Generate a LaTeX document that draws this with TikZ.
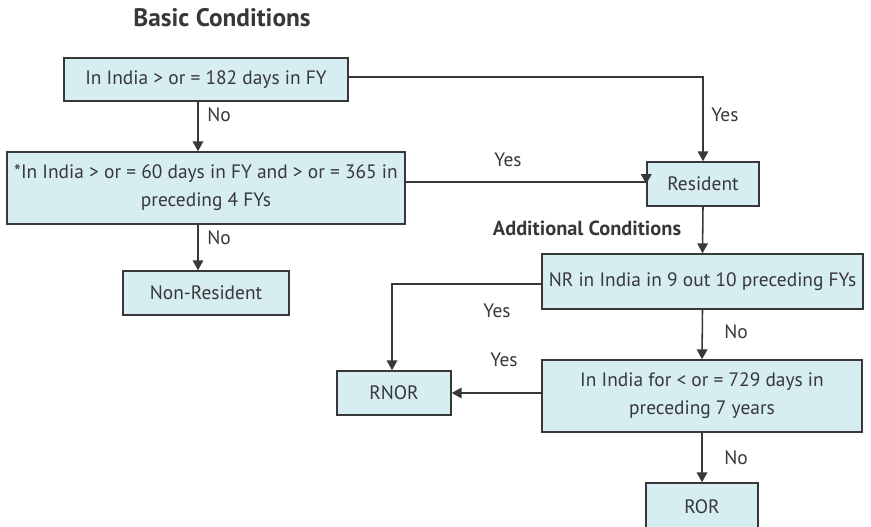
\documentclass[tikz,border=0pt]{standalone}
\usepackage{fontspec}
\setmainfont{PT Sans}
\usetikzlibrary{arrows.meta}
\definecolor{boxfill}{HTML}{D6EDF2}
\definecolor{ink}{HTML}{383838}
\begin{document}
\begin{tikzpicture}[x=1cm,y=1cm,>={Triangle[length=7pt,width=7.5pt]},
  box/.style={draw=ink, fill=boxfill, line width=1.1pt, rectangle, align=center, inner sep=1pt, font=\fontsize{13.8}{20}\selectfont, text=ink},
  lbl/.style={font=\fontsize{13.8}{20}\selectfont, text=ink, inner sep=0pt},
  head/.style={font=\bfseries\fontsize{18}{20}\selectfont, text=ink, inner sep=0pt},
  link/.style={->, draw=ink, line width=1.1pt}]
\useasboundingbox (0,0) rectangle (21.775,-13.175);

\node[head] (basic) at (5.55,-0.45) {Basic Conditions};
\node[head, font=\bfseries\fontsize{14.5}{16}\selectfont] (addl) at (14.675,-5.7) {Additional Conditions};

\node[box, minimum width=7.1cm, minimum height=1.075cm] (stay) at (5.15,-1.99) {In India > or = 182 days in FY};
\node[box, minimum width=9.95cm, minimum height=1.8cm] (sixty) at (5.15,-4.7) {*In India > or = 60 days in FY and > or = 365 in\\preceding 4 FYs};
\node[box, minimum width=4.15cm, minimum height=1.1cm] (nonres) at (5.15,-7.325) {Non-Resident};
\node[box, minimum width=2.8cm, minimum height=1.1cm] (res) at (17.575,-4.6) {Resident};
\node[box, minimum width=8.025cm, minimum height=1.375cm] (nine) at (17.5625,-7.0375) {NR in India in 9 out 10 preceding FYs};
\node[box, minimum width=8.0cm, minimum height=1.8cm] (seven) at (17.55,-9.9) {In India for < or = 729 days in\\preceding 7 years};
\node[box, minimum width=2.85cm, minimum height=1.1cm] (rnor) at (9.85,-9.825) {RNOR};
\node[box, minimum width=2.8cm, minimum height=1.175cm] (ror) at (17.55,-12.6625) {ROR};

% basic conditions
\draw[link] ([xshift=-0.2cm]stay.south) -- ([xshift=-0.2cm]sixty.north);
\draw[link] ([xshift=-0.2cm]sixty.south) -- ([xshift=-0.2cm]nonres.north);
\draw[link] ([yshift=0.06cm]stay.east) -| (res.north);
\draw[link] ([yshift=0.15cm]sixty.east) -- (res.west |- 0,-4.55) -- (res.west);

% additional conditions
\draw[link] (res.south) -- (nine.north);
\draw[link] ([yshift=-0.06cm]nine.west) -| ([xshift=-0.05cm]rnor.north);
\draw[link] (nine.south) -- (seven.north);
\draw[link] (seven.west |- rnor.east) -- (rnor.east);
\draw[link] (seven.south) -- (ror.north);

\node[lbl, anchor=west] (no1) at (5.175,-2.875) {No};
\node[lbl, anchor=west] (yes1) at (17.775,-2.875) {Yes};
\node[lbl] (yes2) at (12.7,-4.0) {Yes};
\node[lbl, anchor=west] (no2) at (5.175,-5.95) {No};
\node[lbl] (yes3) at (12.425,-7.775) {Yes};
\node[lbl, anchor=west] (no3) at (18.1,-8.3) {No};
\node[lbl] (yes4) at (12.6,-9.0) {Yes};
\node[lbl, anchor=west] (no4) at (18.1,-11.45) {No};
\end{tikzpicture}
\end{document}
